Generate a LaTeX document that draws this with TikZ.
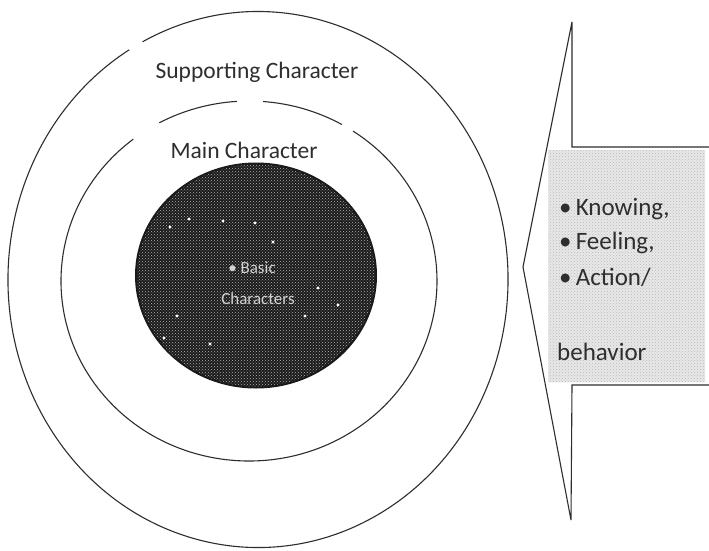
\documentclass[tikz,border=0pt]{standalone}
\usepackage{fontspec}
\setmainfont{Carlito}
\usetikzlibrary{patterns}
\definecolor{inkc}{HTML}{2E2E2E}
\definecolor{discc}{HTML}{1A1A1A}
\tikzset{
  ring/.style={draw=inkc, line width=1.1pt},
  lbl/.style={text=inkc, font=\fontsize{23.5}{28}\selectfont, inner sep=0pt},
  side/.style={text=inkc, font=\fontsize{25}{30}\selectfont, inner sep=0pt, anchor=west},
  faint/.style={text=gray!35, font=\fontsize{17}{20}\selectfont, inner sep=0pt},
  speck/.style={fill=white, draw=none}
}
\begin{document}
\begin{tikzpicture}[x=1pt,y=-1pt]
\useasboundingbox[fill=white] (0,0) rectangle (709,551);
% outer ring with small gap
\draw[ring] (258,279.5) ++(-121:250 and 268) arc[start angle=-121, end angle=-477.5, x radius=250, y radius=268];
% inner ring, broken at the top
\draw[ring] (249,281) ++(-128:188 and 180) arc[start angle=-128, end angle=-416.4, x radius=188, y radius=180];
\draw[ring] (249,281) ++(-60.4:188 and 180) arc[start angle=-60.4, end angle=-85.7, x radius=188, y radius=180];
\draw[ring] (249,281) ++(-93.7:188 and 180) arc[start angle=-93.7, end angle=-118.5, x radius=188, y radius=180];
% dark core
\fill[discc] (256,275.5) ellipse [x radius=121, y radius=113];
\fill[pattern=crosshatch dots, pattern color=gray!60] (256,275.5) ellipse [x radius=119, y radius=111];
\foreach \p in {(170,227),(189,219),(223,221),(255,223),(273,242),(177,316),(305,316),(210,344),(164,338),(338,305),(318,288)}
  \fill[speck] \p circle (1.6);
\node[faint] (core1) at (252,268) {\textbullet\ Basic};
\node[faint] (core2) at (258,299) {Characters};
% labels
\node[lbl] (sup) at (257,72) {Supporting Character};
\node[lbl] (main) at (244,150) {Main Character};
% callout
\fill[gray!18] (548,150) rectangle (705,382);
\fill[pattern=crosshatch dots, pattern color=gray!55] (548,150) rectangle (705,382);
\coordinate (tt) at (572,22);
\coordinate (tl) at (572,147);
\coordinate (tr) at (709,147);
\coordinate (lp) at (523,267);
\coordinate (bl) at (572,385);
\coordinate (br) at (709,385);
\coordinate (bt) at (571,520);
\draw[ring] (tr) -- (tl) -- (tt) -- (lp) -- (bt) -- (bl) -- (br);
\node[side] (k) at (559,209) {\textbullet\,Knowing,};
\node[side] (f) at (559,243) {\textbullet\,Feeling,};
\node[side] (a) at (559,277) {\textbullet\,Action/};
\node[side] (b) at (557,352) {behavior};
\end{tikzpicture}
\end{document}
